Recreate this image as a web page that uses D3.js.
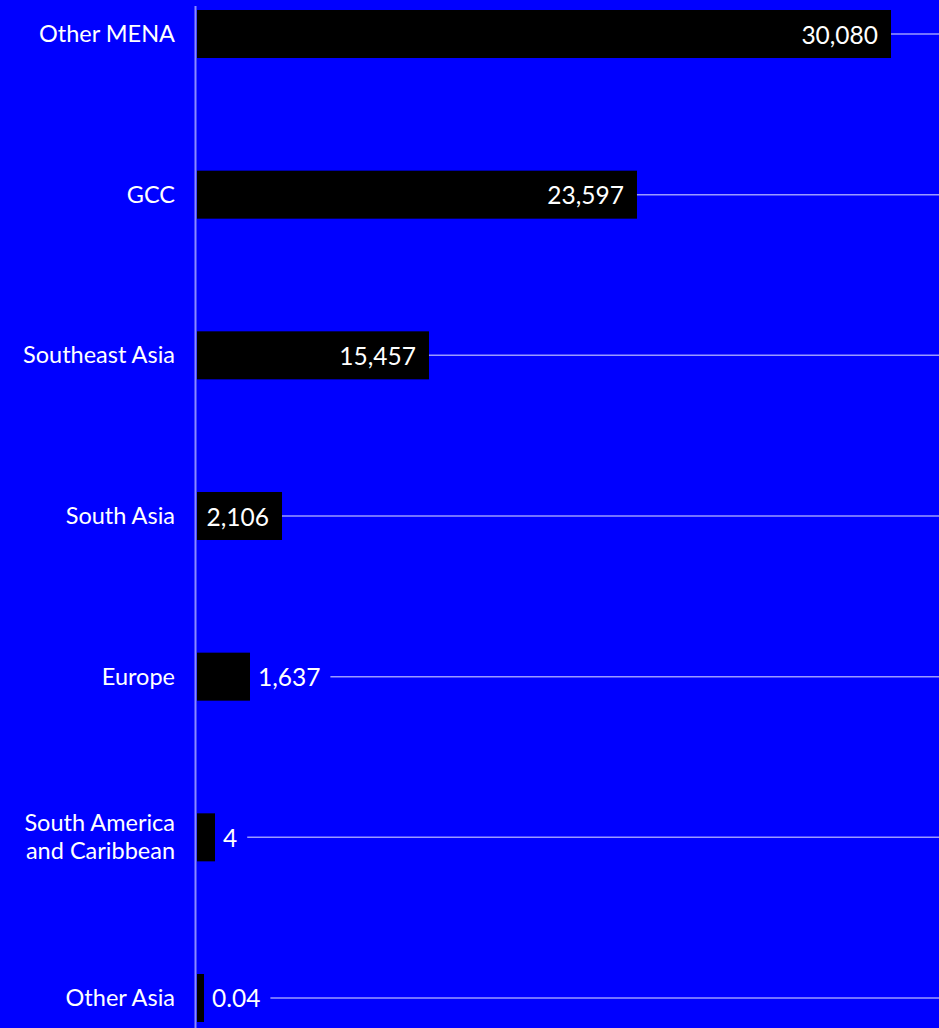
<!DOCTYPE html>
<html>
<head>
<meta charset="utf-8">
<script src="https://cdn.jsdelivr.net/npm/d3@7"></script>
<style>
  html, body { margin: 0; padding: 0; background: #0000ff; }
  svg { display: block; }
  text { font-family: "Lato", "Open Sans", sans-serif; }
</style>
</head>
<body>
<svg id="chart" width="939" height="1028"></svg>
<script>
// ---- data ----
const categories = ["Other MENA", "GCC", "Southeast Asia", "South Asia", "Europe", "South America and Caribbean", "Other Asia"];
const categoryLines = [["Other MENA"], ["GCC"], ["Southeast Asia"], ["South Asia"], ["Europe"], ["South America", "and Caribbean"], ["Other Asia"]];
const values = [30080, 23597, 15457, 2106, 1637, 4, 0.04];
const valueLabels = ["30,080", "23,597", "15,457", "2,106", "1,637", "4", "0.04"];
// bar lengths as drawn in the reference (value units, same scale as the largest bar)
const barLengths = [30080, 19070, 10055, 3684, 2297, 780, 303];

// ---- layout ----
const W = 939, H = 1028;
const left = 197, right = 891;
const svg = d3.select("#chart");

const x = d3.scaleLinear().domain([0, d3.max(barLengths)]).range([left, right]);
const y = d3.scaleBand().domain(categories).range([10, 1022]).paddingInner(0.7012).paddingOuter(0);

const rows = categories.map((c, i) => ({ c, lines: categoryLines[i], v: values[i], label: valueLabels[i], len: barLengths[i] }));

// axis line
svg.append("line")
  .attr("x1", left - 1.5).attr("x2", left - 1.5)
  .attr("y1", 6).attr("y2", H)
  .attr("stroke", "#8a8aff").attr("stroke-width", 2);

const g = svg.selectAll("g.row").data(rows).join("g").attr("class", "row");

g.append("rect")
  .attr("x", x(0))
  .attr("y", d => y(d.c))
  .attr("width", d => x(d.len) - x(0))
  .attr("height", y.bandwidth())
  .attr("fill", "#000");

// category labels
g.each(function(d) {
  const sel = d3.select(this);
  const cy = y(d.c) + y.bandwidth() / 2;
  const lh = 28;
  const n = d.lines.length;
  const t = sel.append("text")
    .attr("x", 175)
    .attr("text-anchor", "end")
    .attr("fill", "#fff")
    .attr("font-size", 23.5)
    .attr("dominant-baseline", "central");
  d.lines.forEach((ln, k) => {
    t.append("tspan").attr("x", 175).attr("y", cy - 1 + (k - (n - 1) / 2) * lh).text(ln);
  });

  // value label
  const barEnd = x(d.len);
  const vt = sel.append("text")
    .attr("y", cy)
    .attr("fill", "#fff")
    .attr("font-size", 24.5)
    .attr("dominant-baseline", "central")
    .text(d.label);
  const tw = vt.node().getComputedTextLength();
  const pad = 13;
  let lineStart;
  if (tw + 20 <= barEnd - x(0)) {
    vt.attr("x", barEnd - pad).attr("text-anchor", "end");
    lineStart = barEnd;
  } else {
    vt.attr("x", barEnd + 8).attr("text-anchor", "start");
    lineStart = barEnd + 8 + tw + 10;
  }
  sel.insert("line", "text")
    .attr("x1", lineStart).attr("x2", W)
    .attr("y1", cy).attr("y2", cy)
    .attr("stroke", "#9a9aff").attr("stroke-width", 1.5);
});
</script>
</body>
</html>
